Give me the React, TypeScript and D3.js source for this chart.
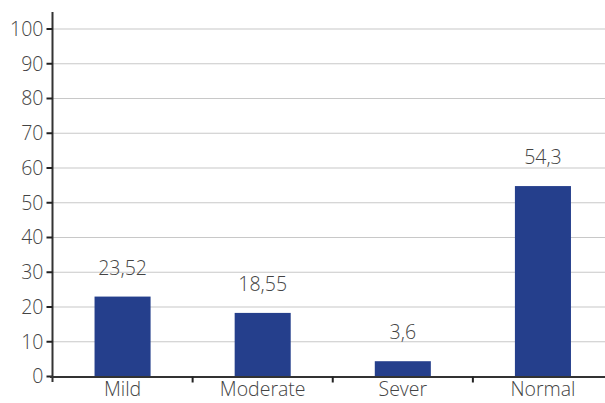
import * as d3 from "d3"

// chart data
const categories = ["Mild", "Moderate", "Sever", "Normal"]
const barValues = [23.0, 18.3, 4.4, 54.8]
const valueLabels = ["23,52", "18,55", "3,6", "54,3"]
const yTicks = [0, 10, 20, 30, 40, 50, 60, 70, 80, 90, 100]

export default function App() {
  const width = 605
  const height = 403
  const left = 52.5
  const right = 613
  const top = 29
  const bottom = 376.5

  const x = d3.scaleBand<string>().domain(categories).range([left, right]).paddingInner(0.6).paddingOuter(0.3)
  const y = d3.scaleLinear().domain([0, 100]).range([bottom, top])

  const font = "'Open Sans', 'Noto Sans', sans-serif"
  const textColor = "#444"
  const step = x.step()

  // band edges for the x-axis tick marks
  const edges = categories.map((c) => (x(c) as number) - (step - x.bandwidth()) / 2)

  return (
    <svg
      width={width}
      height={height}
      style={{ position: "absolute", left: 0, top: 0, background: "#fff" }}
      fontFamily={font}
    >
      {/* gridlines */}
      {yTicks.slice(1).map((t) => (
        <line key={"g" + t} x1={left} x2={width} y1={y(t)} y2={y(t)} stroke="#c8c8c8" strokeWidth={1.2} />
      ))}

      {/* bars */}
      {categories.map((c, i) => (
        <rect
          key={c}
          x={x(c)}
          y={y(barValues[i])}
          width={x.bandwidth()}
          height={bottom - y(barValues[i])}
          fill="#253f8c"
        />
      ))}

      {/* value labels */}
      {categories.map((c, i) => (
        <text
          key={"v" + c}
          x={(x(c) as number) + x.bandwidth() / 2}
          y={y(barValues[i]) - 22}
          textAnchor="middle"
          fontSize={19.5}
          fontWeight={300}
          fill={textColor}
        >
          {valueLabels[i]}
        </text>
      ))}

      {/* y axis */}
      <line x1={left} x2={left} y1={12} y2={382} stroke="#333" strokeWidth={2} />
      {yTicks.map((t) => (
        <g key={"y" + t}>
          <line x1={left - 6} x2={left} y1={y(t)} y2={y(t)} stroke="#222" strokeWidth={2} />
          <text
            x={left - 9}
            y={y(t)}
            dy="0.35em"
            textAnchor="end"
            fontSize={19.5}
            fontWeight={300}
            fill={textColor}
          >
            {t}
          </text>
        </g>
      ))}

      {/* x axis */}
      <line x1={50} x2={width} y1={bottom + 0.5} y2={bottom + 0.5} stroke="#333" strokeWidth={2} />
      {edges.slice(1).map((e, i) => (
        <line key={"t" + i} x1={e} x2={e} y1={bottom} y2={bottom + 6} stroke="#222" strokeWidth={2} />
      ))}
      {categories.map((c) => (
        <text
          key={"c" + c}
          x={(x(c) as number) + x.bandwidth() / 2}
          y={396}
          textAnchor="middle"
          fontSize={19.5}
          fontWeight={300}
          fill={textColor}
        >
          {c}
        </text>
      ))}
    </svg>
  )
}
